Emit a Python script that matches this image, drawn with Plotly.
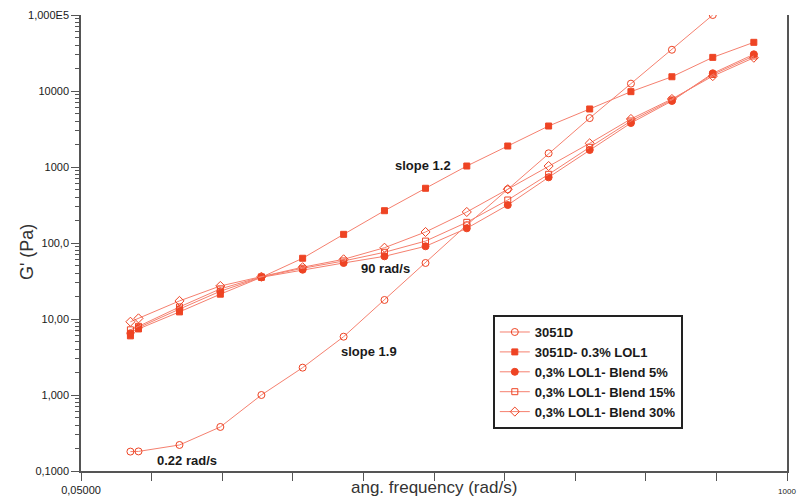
import math
import plotly.graph_objects as go

# ---------------- data ----------------
freq = [0.1, 0.112, 0.199, 0.353, 0.628, 1.12, 1.99, 3.53, 6.28, 11.2, 19.9, 35.3, 62.8, 112, 199, 353, 628]

g_3051d = [0.18, 0.181, 0.22, 0.38, 1.0, 2.29, 5.85, 17.8, 54.6, 172, 509, 1514, 4400, 12500, 34900, 100000]
g_lol1 = [6.0, 7.4, 12.4, 21.2, 35.4, 63, 130, 266, 525, 1030, 1888, 3460, 5800, 9800, 15400, 27700, 43700]
g_b5 = [6.5, 7.7, 13.5, 23.2, 35.4, 44.5, 54.6, 66.8, 90.5, 156, 316, 731, 1673, 3790, 7390, 17100, 30400]
g_b15 = [7.2, 8.0, 14.4, 24.9, 35.8, 46.5, 58, 75.5, 106, 187, 368, 801, 1817, 4030, 7620, 16500, 28900]
g_b30 = [9.2, 10.2, 17.3, 27.2, 36.0, 48, 61, 86.7, 139.6, 256, 510, 1030, 2050, 4285, 7850, 15700, 27400]

series_names = ["3051D", "3051D- 0.3% LOL1", "0,3% LOL1- Blend 5%", "0,3% LOL1- Blend 15%", "0,3% LOL1- Blend 30%"]
series_values = [g_3051d, g_lol1, g_b5, g_b15, g_b30]
series_symbols = ["circle-open", "square", "circle", "square-open", "diamond-open"]
series_sizes = [7, 6, 7, 6, 7]

y_tickvals = [0.1, 1, 10, 100, 1000, 10000, 100000]
y_ticktext = ["0,1000", "1,000", "10,00", "100,0", "1000", "10000", "1,000E5"]
x_min, x_max = 0.05, 1000
x_end_labels = ["0,05000", "1000"]

# ---------------- styles ----------------
line_col = "#F5806F"
mark_col = "#EE4424"
axis_col = "#555555"
text_col = "#1a1a1a"
FONT = "Liberation Sans, Arial, sans-serif"

fig = go.Figure()
for name, vals, sym, sz in zip(series_names, series_values, series_symbols, series_sizes):
    fig.add_trace(go.Scatter(
        x=freq[:len(vals)], y=vals, name=name, mode="lines+markers",
        line=dict(color=line_col, width=1),
        marker=dict(symbol=sym, size=sz, color=mark_col,
                    line=dict(color=mark_col, width=1)),
    ))

# x ticks: 10 equal log intervals between ends
n_int = 10
x_tickvals = [x_min * (x_max / x_min) ** (k / n_int) for k in range(n_int + 1)]
x_ticktext = [""] * (n_int + 1)
x_ticktext[0] = x_end_labels[0]
x_ticktext[-1] = "<span style='font-size:8px'>" + x_end_labels[1] + "</span>"

minor_y = [m * 10 ** e for e in range(-1, 5) for m in range(2, 10)]

fig.update_xaxes(
    type="log", range=[math.log10(x_min), math.log10(x_max)], automargin=False,
    tickmode="array", tickvals=x_tickvals, ticktext=x_ticktext,
    ticks="outside", ticklen=8, tickwidth=1, tickcolor=axis_col,
    showline=True, linecolor=axis_col, linewidth=1.5,
    showgrid=False, zeroline=False,
    tickfont=dict(family=FONT, size=11, color=text_col),
)
fig.update_yaxes(
    type="log", range=[-1, 5], automargin=False,
    tickmode="array", tickvals=y_tickvals, ticktext=y_ticktext,
    ticks="outside", ticklen=8, tickwidth=1, tickcolor=axis_col,
    minor=dict(tickmode="array", tickvals=minor_y, ticks="outside", ticklen=4,
               tickcolor=axis_col, showgrid=False),
    showline=True, linecolor=axis_col, linewidth=1.5, mirror=True,
    showgrid=False, zeroline=False,
    tickfont=dict(family=FONT, size=11, color=text_col),
)

ann_font = dict(family=FONT, size=13, color=text_col, weight="bold")
annotations = [
    dict(text="slope 1.2", x=0.4844, y=0.671),
    dict(text="90 rad/s", x=0.4306, y=0.443),
    dict(text="slope 1.9", x=0.408, y=0.261),
    dict(text="0.22 rad/s", x=0.1508, y=0.0241),
]
for a in annotations:
    fig.add_annotation(xref="paper", yref="paper", showarrow=False,
                       xanchor="center", yanchor="middle", font=ann_font, **a)

fig.add_annotation(text="ang. frequency (rad/s)", xref="paper", yref="paper",
                   x=0.5, y=-0.0351, showarrow=False, xanchor="center", yanchor="middle",
                   font=dict(family=FONT, size=17, color="#333333"))
fig.add_annotation(text="G' (Pa)", xref="paper", yref="paper", textangle=-90,
                   x=-0.0765, y=0.48, showarrow=False, xanchor="center", yanchor="middle",
                   font=dict(family=FONT, size=18, color="#333333"))

fig.update_layout(
    width=799, height=501,
    margin=dict(l=81, r=12, t=15, b=30),
    paper_bgcolor="white", plot_bgcolor="white",
    showlegend=True,
    legend=dict(x=0.5833, y=0.342, xanchor="left", yanchor="top",
                bgcolor="white", bordercolor="#222222", borderwidth=2,
                font=dict(family=FONT, size=13, color=text_col, weight="bold"),
                itemwidth=30, tracegroupgap=0),
)

fig.write_html("out.html")
